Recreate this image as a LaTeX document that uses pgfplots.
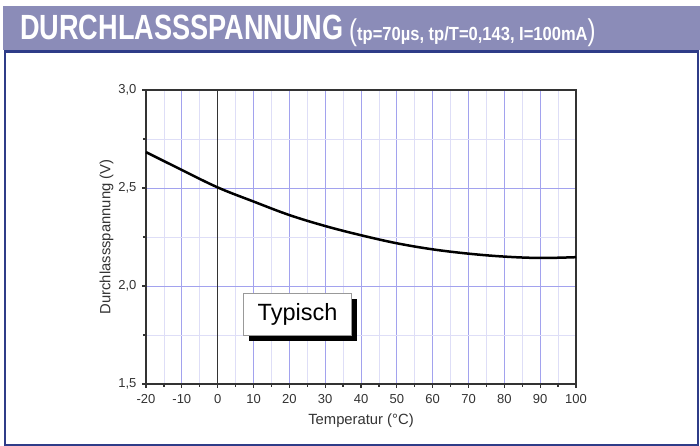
\documentclass[border=0pt]{standalone}
\usepackage{pgfplots}
\pgfplotsset{compat=1.18}
\usepackage{fontspec}
\setmainfont{Liberation Sans}
\definecolor{band}{HTML}{8B8CB8}
\definecolor{frameblue}{HTML}{2F3C88}
\definecolor{axgray}{HTML}{333333}
\definecolor{majgrid}{HTML}{A2A2EE}
\definecolor{mingrid}{HTML}{DEDEF7}
\begin{document}
\begin{tikzpicture}[x=1pt,y=1pt]
\useasboundingbox (0,0) rectangle (700,446);
\fill[white] (0,0) rectangle (700,446);
% title band
\fill[band] (3,396) rectangle (700,440);
\node[anchor=base west, inner sep=0, text=white] at (20,406)
  {\scalebox{0.775}[1]{\fontsize{35}{35}\selectfont\bfseries DURCHLASSSPANNUNG}};
\node[anchor=base west, inner sep=0, text=white] at (349,405)
  {\scalebox{0.8}[1]{\fontsize{30}{30}\selectfont (}\scalebox{0.87}[1]{\fontsize{19}{19}\selectfont\bfseries tp=70µs, tp/T=0,143, I=100mA}\scalebox{0.8}[1]{\fontsize{30}{30}\selectfont )}};
% frame
\draw[frameblue, line width=2.5] (5,1.2) rectangle (698,394.5);
\begin{axis}[
  at={(146pt,62pt)}, anchor=south west,
  scale only axis, width=430pt, height=294pt,
  xmin=-20, xmax=100, ymin=1.5, ymax=3.0,
  xtick={-20,-10,...,100},
  ytick={1.5,2.0,2.5,3.0},
  minor x tick num=1, minor y tick num=1,
  xtick pos=bottom, ytick pos=left,
  tick align=outside,
  major tick length=4pt, minor tick length=3pt,
  every tick/.style={axgray, line width=1.2pt},
  axis line style={axgray, line width=1.5pt},
  grid=both,
  major grid style={majgrid, line width=0.9pt},
  minor grid style={mingrid, line width=0.8pt},
  /pgf/number format/assume math mode=true,
  /pgf/number format/.cd, use comma, fixed, fixed zerofill, precision=1, /pgfplots/.cd,
  xticklabel={\pgfmathprintnumber[fixed, precision=0, fixed zerofill=false]{\tick}},
  tick label style={font=\fontsize{13}{13}\selectfont, text=axgray},
  xticklabel style={yshift=-2.5pt},
  yticklabel style={xshift=-2pt},
  xlabel={Temperatur (°C)},
  ylabel={Durchlassspannung (V)},
  label style={font=\fontsize{14.8}{14.8}\selectfont, text=axgray},
  xlabel style={at={(axis description cs:0.5,-0.126)}, anchor=center},
  ylabel style={at={(axis description cs:-0.092,0.5)}, anchor=center, rotate=0},
  clip=false,
]
\draw[axgray, line width=1.5pt] (axis cs:0,1.5) -- (axis cs:0,3.0);
\addplot[black, line width=2.5pt, smooth, tension=0.6] coordinates {
(-20,2.683) (-10,2.592) (0,2.503) (10,2.431) (20,2.362) (30,2.306)
(40,2.259) (50,2.218) (60,2.187) (70,2.165) (80,2.150) (90,2.143) (100,2.147)
};
\node[fill=black, minimum width=108pt, minimum height=42pt, inner sep=0, xshift=5.3pt, yshift=-5.5pt] at (axis cs:22.3,1.855) {};
\node[fill=white, draw=gray!80, line width=0.8pt, minimum width=108pt, minimum height=42pt, inner sep=0, font=\fontsize{23.5}{23.5}\selectfont] at (axis cs:22.3,1.855) {Typisch};
\end{axis}
\end{tikzpicture}
\end{document}
